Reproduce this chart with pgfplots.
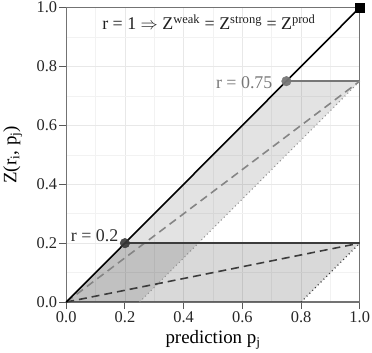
\documentclass[border=0pt]{standalone}
\usepackage{fontspec}
\setmainfont{Liberation Serif}
\usepackage{pgfplots}
\pgfplotsset{compat=1.18}
\definecolor{lgray}{HTML}{777777}
\definecolor{dgray}{HTML}{3C3C3C}
\begin{document}
\begin{tikzpicture}
\begin{axis}[
  width=294bp, height=295bp, scale only axis,
  xmin=0, xmax=1, ymin=0, ymax=1,
  xtick={0,0.2,0.4,0.6,0.8,1}, ytick={0,0.2,0.4,0.6,0.8,1},
  minor xtick={0.1,0.3,0.5,0.7,0.9}, minor ytick={0.1,0.3,0.5,0.7,0.9},
  xticklabels={0.0,0.2,0.4,0.6,0.8,1.0},
  yticklabels={0.0,0.2,0.4,0.6,0.8,1.0},
  xtick pos=bottom, ytick pos=left,
  grid=both,
  major grid style={color=black!9, line width=0.8pt},
  minor grid style={color=black!5, line width=0.6pt},
  axis line style={color=black!55, line width=1.3pt},
  major tick style={color=black!65, line width=1pt},
  tick align=outside, major tick length=7bp, minor tick length=0bp,
  ticklabel style={font=\fontsize{16.5}{16.5}\selectfont, color=black!85},
  xticklabel style={inner sep=2pt},
  yticklabel style={inner sep=2pt},
  xlabel={prediction p\textsubscript{j}},
  ylabel={Z(r\textsubscript{i}, p\textsubscript{j})},
  label style={font=\fontsize{19}{19}\selectfont},
  xlabel style={yshift=-3bp},
  ylabel style={yshift=9bp},
  clip=false,
]
% shaded regions
\addplot[fill=black, fill opacity=0.11, draw=none] coordinates {(0,0) (0.75,0.75) (1,0.75) (0.25,0) (0,0)};
\addplot[fill=black, fill opacity=0.15, draw=none] coordinates {(0,0) (0.2,0.2) (1,0.2) (0.8,0) (0,0)};
% r = 0.75 lines
\addplot[lgray, line width=1.5pt] coordinates {(0.75,0.75) (1,0.75)};
\addplot[lgray!90, line width=1.6pt, dash pattern=on 8pt off 5pt] coordinates {(0,0) (1,0.75)};
\addplot[lgray!80, line width=1.1pt, dash pattern=on 1pt off 3pt] coordinates {(0.25,0) (1,0.75)};
% r = 0.2 lines
\addplot[dgray, line width=1.6pt] coordinates {(0.2,0.2) (1,0.2)};
\addplot[dgray, line width=1.6pt, dash pattern=on 8pt off 5pt] coordinates {(0,0) (1,0.2)};
\addplot[dgray, line width=1.2pt, dash pattern=on 1pt off 3pt] coordinates {(0.8,0) (1,0.2)};
% diagonal
\addplot[black, line width=1.6pt] coordinates {(0,0) (1,1)};
% points
\addplot[only marks, mark=*, mark size=4.8bp, color=lgray, opacity=0.95] coordinates {(0.75,0.75)};
\addplot[only marks, mark=*, mark size=4.8bp, color=black!78, opacity=0.9] coordinates {(0.2,0.2)};
\addplot[only marks, mark=square*, mark size=4.2bp, color=black] coordinates {(1,1)};
% labels
\node[anchor=base west, inner sep=0pt, font=\fontsize{18}{18}\selectfont, color=black!88] at (axis cs:0.122,0.925)
  {r = 1 $\Rightarrow$ Z\textsuperscript{weak} = Z\textsuperscript{strong} = Z\textsuperscript{prod}};
\node[anchor=east, inner sep=0pt, font=\fontsize{18}{18}\selectfont, color=lgray] at (axis cs:0.703,0.745) {r = 0.75};
\node[anchor=base east, inner sep=0pt, font=\fontsize{18}{18}\selectfont, color=black!82] at (axis cs:0.178,0.204) {r = 0.2};
\end{axis}
\end{tikzpicture}
\end{document}
